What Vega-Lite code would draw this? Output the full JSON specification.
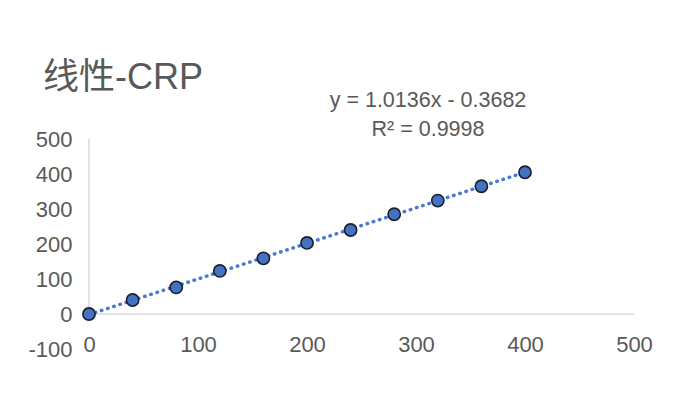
{
  "$schema": "https://vega.github.io/schema/vega-lite/v6.json",
  "autosize": {"type": "none"},
  "width": 545,
  "height": 210,
  "padding": {"left": 89, "top": 139, "right": 41, "bottom": 68},
  "background": "white",
  "config": {
    "view": {"stroke": null},
    "font": "Liberation Sans, Arial, Noto Sans CJK SC",
    "axis": {"labelOverlap": false, "labelBound": false, "labelFlush": false}
  },
  "title": {
    "text": "线性-CRP",
    "anchor": "start",
    "frame": "group",
    "dx": -46,
    "offset": -7,
    "fontSize": 36,
    "fontWeight": "normal",
    "color": "#595959",
    "font": "Liberation Sans, Noto Sans CJK SC"
  },
  "datasets": {
    "points": [
      {"x": 0, "y": 0},
      {"x": 40, "y": 40},
      {"x": 80, "y": 76},
      {"x": 120, "y": 123},
      {"x": 160, "y": 159},
      {"x": 200, "y": 203},
      {"x": 240, "y": 240},
      {"x": 280, "y": 285},
      {"x": 320, "y": 324},
      {"x": 360, "y": 365},
      {"x": 400, "y": 405}
    ],
    "axes": [
      {"x": 0, "x2": 0, "y": 0, "y2": 500},
      {"x": 0, "x2": 500, "y": 0, "y2": 0}
    ],
    "labels": [
      {"x": 311, "y": 608, "text": "y = 1.0136x - 0.3682"},
      {"x": 311, "y": 526, "text": "R² = 0.9998"}
    ]
  },
  "encoding": {
    "x": {"field": "x", "type": "quantitative", "scale": {"domain": [0, 500]},
      "axis": {"values": [0, 100, 200, 300, 400, 500], "domain": false, "ticks": false, "grid": false, "title": null,
        "labelFontSize": 22, "labelColor": "#595959", "labelPadding": 0, "offset": -15, "labelFont": "Liberation Sans",
        "labelExpr": "'' + datum.value"}},
    "y": {"field": "y", "type": "quantitative", "scale": {"domain": [-100, 500]},
      "axis": {"values": [-100, 0, 100, 200, 300, 400, 500], "domain": false, "ticks": false, "grid": false, "title": null,
        "labelFontSize": 22, "labelColor": "#595959", "labelPadding": 17, "labelFont": "Liberation Sans",
        "labelExpr": "'' + datum.value"}}
  },
  "layer": [
    {
      "data": {"name": "axes"},
      "mark": {"type": "rule", "color": "#d9d9d9", "strokeWidth": 1.5},
      "encoding": {
        "x2": {"field": "x2"},
        "y2": {"field": "y2"}
      }
    },
    {
      "data": {"name": "points"},
      "transform": [{"regression": "y", "on": "x", "method": "linear"}],
      "mark": {"type": "line", "color": "#4a7bd0", "strokeWidth": 3.5, "strokeDash": [0.5, 6], "strokeCap": "round"}
    },
    {
      "data": {"name": "points"},
      "mark": {"type": "point", "filled": true, "fill": "#4472c4", "stroke": "#1a1f29", "strokeWidth": 1.6, "size": 150, "opacity": 1, "shape": "circle"}
    },
    {
      "data": {"name": "labels"},
      "mark": {"type": "text", "fontSize": 21.5, "color": "#595959", "align": "center", "baseline": "middle", "clip": false, "font": "Liberation Sans"},
      "encoding": {
        "text": {"field": "text"}
      }
    }
  ]
}
